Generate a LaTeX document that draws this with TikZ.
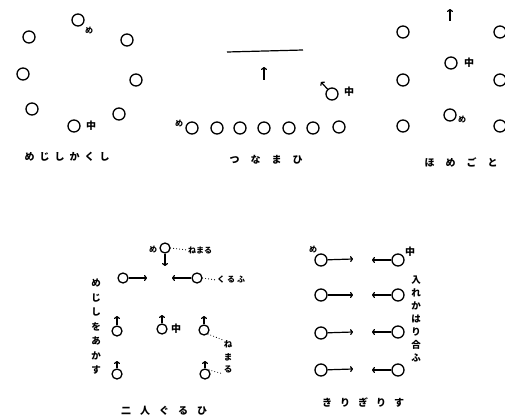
\documentclass[tikz,border=0pt]{standalone}
\usepackage{fontspec}
\newfontfamily\cjk{Noto Sans CJK JP}
\usepackage{tikz}
\usetikzlibrary{arrows.meta}

\tikzset{
  ring/.style={circle, draw, line width=1.3pt, minimum size=12pt, inner sep=0pt},
  smallring/.style={ring, minimum size=10pt},
  lbl/.style={font=\cjk\bfseries\fontsize{10}{11}\selectfont, inner sep=0pt},
  tiny/.style={font=\cjk\bfseries\fontsize{8}{9}\selectfont, inner sep=0pt},
  vert/.style={font=\cjk\bfseries\fontsize{9.5}{14.5}\selectfont, align=center, inner sep=0pt},
  dotline/.style={line width=1.1pt, line cap=round, dash pattern=on 0pt off 3pt},
}

\begin{document}
\begin{tikzpicture}[x=1pt, y=-1pt, line width=1.2pt, >={To[length=3pt,width=6pt]}]
        \useasboundingbox (0,0) rectangle (505,417);

        % Coordinates
        \coordinate (I) at (227,52);
        \coordinate (J) at (303,50);
        \coordinate (K) at (264,80);
        \coordinate (L) at (264,67);
        \coordinate (N) at (321,82);
        \coordinate (V) at (450,21);
        \coordinate (W) at (450,9);
        \coordinate (AG) at (165,266);
        \coordinate (AJ) at (147,278);
        \coordinate (AL) at (172,278);
        \coordinate (AP) at (117,316);
        \coordinate (AR) at (162,315);
        \coordinate (AT) at (204,316);
        \coordinate (AV) at (117,361);
        \coordinate (AX) at (205,361);
        \coordinate (BD) at (353,259);
        \coordinate (BE) at (353,295);
        \coordinate (BF) at (353,332);
        \coordinate (BG) at (353,369);
        \coordinate (BL) at (372,260);
        \coordinate (BM) at (372,295);
        \coordinate (BN) at (372,332);
        \coordinate (BO) at (372,370);

        % Nodes
        \node[ring] (A) at (78,20) {};
        \node[ring] (B) at (29,37) {};
        \node[ring] (C) at (127,40) {};
        \node[ring] (D) at (23,74) {};
        \node[ring] (E) at (136,80) {};
        \node[ring] (F) at (32,109) {};
        \node[ring] (G) at (119,114) {};
        \node[ring] (H) at (74,126) {};
        \node[ring] (M) at (332,94) {};
        \node[ring] (O) at (192,128) {};
        \node[ring] (P) at (217,128) {};
        \node[ring] (Q) at (240,128) {};
        \node[ring] (R) at (264,128) {};
        \node[ring] (S) at (289,128) {};
        \node[ring] (T) at (313,128) {};
        \node[ring] (U) at (339,127) {};
        \node[ring] (X) at (403,32) {};
        \node[ring] (Y) at (403,80) {};
        \node[ring] (Z) at (403,126) {};
        \node[ring] (AA) at (500,32) {};
        \node[ring] (AB) at (500,80) {};
        \node[ring] (AC) at (500,126) {};
        \node[ring] (AD) at (451,63) {};
        \node[ring] (AE) at (450,115) {};
        \node[smallring] (AF) at (165,248) {};
        \node[smallring] (AI) at (123,278) {};
        \node[smallring] (AK) at (197,278) {};
        \node[smallring] (AO) at (117,331) {};
        \node[smallring] (AQ) at (162,329) {};
        \node[smallring] (AS) at (204,330) {};
        \node[smallring] (AU) at (117,374) {};
        \node[smallring] (AW) at (205,374) {};
        \node[ring] (AZ) at (321,260) {};
        \node[ring] (BA) at (321,295) {};
        \node[ring] (BB) at (321,333) {};
        \node[ring] (BC) at (321,370) {};
        \node[ring] (BH) at (398,260) {};
        \node[ring] (BI) at (398,295) {};
        \node[ring] (BJ) at (398,332) {};
        \node[ring] (BK) at (398,370) {};

        % Labels
        \node[tiny] at (89,31) {め};
        \node[lbl] at (91,126) {中};
        \node[lbl] at (67,157) {め\hspace{5pt}じ\hspace{5pt}し\hspace{5pt}か\hspace{5pt}く\hspace{5pt}し};
        \node[lbl] at (349,92) {中};
        \node[tiny] at (179,124) {め};
        \node[lbl] at (266,160) {つ\hspace{11pt}な\hspace{11pt}ま\hspace{11pt}ひ};
        \node[lbl] at (469,63) {中};
        \node[tiny] at (462,120) {め};
        \node[lbl] at (461,162) {ほ\hspace{11pt}め\hspace{11pt}ご\hspace{11pt}と};
        \node[tiny] at (153,250) {め};
        \node[tiny] (AH) at (200,250) {ねまる};
        \node[tiny] (AM) at (231,280) {く\hspace{2pt}る\hspace{2pt}ふ};
        \node[vert] at (96,327) {め\\じ\\し\\を\\あ\\か\\す};
        \node[lbl] at (176,329) {中};
        \node[vert, font=\cjk\bfseries\fontsize{8.5}{12.5}\selectfont] (AY) at (228,357) {ね\\ま\\る};
        \node[lbl] at (164,411) {二\hspace{9pt}人\hspace{9pt}ぐ\hspace{9pt}る\hspace{9pt}ひ};
        \node[tiny] at (313,250) {め};
        \node[lbl] at (410,252) {中};
        \node[vert, font=\cjk\bfseries\fontsize{9.5}{13}\selectfont] at (416,319) {入\\れ\\か\\は\\り\\合\\ふ};
        \node[lbl] at (363,403) {き\hspace{8pt}り\hspace{8pt}ぎ\hspace{8pt}り\hspace{8pt}す};

        % Drawing
        \draw (I) -- (J);
        \draw[->] (K) -- (L);
        \draw[->] (M) -- (N);
        \draw[->] (V) -- (W);
        \draw[->] (AF) -- (AG);
        \draw[dotline] (AF.east) -- (AH.west);
        \draw[->] (AI) -- (AJ);
        \draw[->] (AK) -- (AL);
        \draw[dotline] (AK.east) -- (AM.west);
        \draw[->] (AO) -- (AP);
        \draw[->] (AQ) -- (AR);
        \draw[->] (AS) -- (AT);
        \draw[->] (AU) -- (AV);
        \draw[->] (AW) -- (AX);
        \draw[dotline] (AS.south east) -- (AY.north west);
        \draw[dotline] (AW.north east) -- (AY.south west);
        \draw[->] (AZ) -- (BD);
        \draw[->] (BA) -- (BE);
        \draw[->] (BB) -- (BF);
        \draw[->] (BC) -- (BG);
        \draw[->] (BH) -- (BL);
        \draw[->] (BI) -- (BM);
        \draw[->] (BJ) -- (BN);
        \draw[->] (BK) -- (BO);
\end{tikzpicture}
\end{document}
